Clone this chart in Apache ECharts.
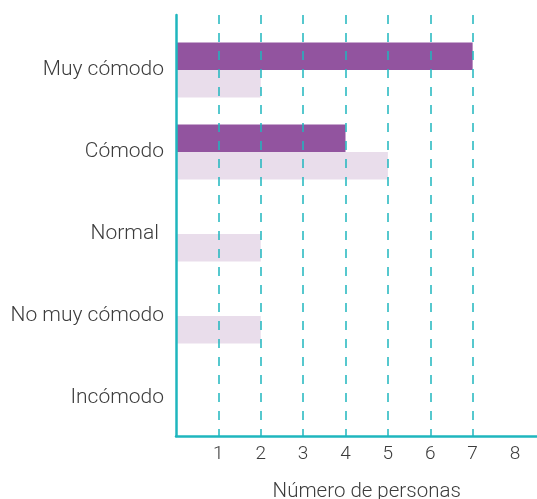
<!DOCTYPE html>
<html>
<head>
<meta charset="utf-8">
<script src="https://cdn.jsdelivr.net/npm/echarts@6/dist/echarts.min.js"></script>
<style>
  html, body { margin: 0; padding: 0; background: #ffffff; }
  #chart { width: 537px; height: 499px; }
</style>
</head>
<body>
<div id="chart"></div>
<script>
// Categories (top to bottom) and the number of people in each answer
const categories = ['Muy cómodo', 'Cómodo', 'Normal ', 'No muy cómodo', 'Incómodo'];
const darkValues = [7, 4, 0, 0, 0];
const lightValues = [2, 5, 2, 2, 0];
const xTickLabels = [1, 2, 3, 4, 5, 6, 7, 8];
const xAxisTitle = 'Número de personas';

const teal = '#1fb6be';
const textColor = '#3c3c3c';
const fontFamily = 'Roboto, "Noto Sans", sans-serif';
const unitPx = 42.375;        // pixels per person
const lineMax = 9;            // axis line keeps going past the last tick
const tickMax = xTickLabels[xTickLabels.length - 1];

const chart = echarts.init(document.getElementById('chart'), null, { renderer: 'canvas' });

chart.setOption({
  backgroundColor: '#ffffff',
  animation: false,
  grid: [
    // 0: bars and category labels
    { left: 176, top: 29, width: unitPx * lineMax, height: 410, containLabel: false, outerBoundsMode: 'none' },
    // 1: axis lines and axis title
    { left: 176, top: 15, width: unitPx * lineMax, height: 421, containLabel: false, outerBoundsMode: 'none' },
    // 2: dashed guides and tick numbers
    { left: 176, top: 15, width: unitPx * tickMax, height: 421, containLabel: false, outerBoundsMode: 'none' }
  ],
  xAxis: [
    { gridIndex: 0, type: 'value', min: 0, max: lineMax, show: false },
    {
      gridIndex: 1, type: 'value', min: 0, max: lineMax, interval: 1, z: 5,
      axisLine: { show: true, lineStyle: { color: teal, width: 2.5 } },
      axisTick: { show: false }, axisLabel: { show: false }, splitLine: { show: false },
      name: xAxisTitle, nameLocation: 'middle', nameGap: 45,
      nameTextStyle: { fontSize: 20.5, fontWeight: 300, color: textColor, fontFamily: fontFamily }
    },
    {
      gridIndex: 2, type: 'value', min: 0, max: tickMax, interval: 1, z: 4,
      axisLine: { show: false }, axisTick: { show: false },
      axisLabel: {
        margin: 9, fontSize: 19, fontWeight: 300, color: textColor, fontFamily: fontFamily,
        showMaxLabel: true,
        formatter: v => (xTickLabels.indexOf(v) >= 0 ? String(v) : '')
      },
      splitLine: {
        show: true, showMinLine: false, showMaxLine: false,
        lineStyle: { color: teal, width: 1.5, type: [9, 9] }
      }
    }
  ],
  yAxis: [
    {
      gridIndex: 0, type: 'category', inverse: true, data: categories,
      axisLine: { show: false }, axisTick: { show: false },
      axisLabel: { margin: 12, fontSize: 21, fontWeight: 300, color: textColor, fontFamily: fontFamily },
      splitLine: { show: false }
    },
    {
      gridIndex: 1, type: 'category', inverse: true, data: categories, z: 5,
      axisLine: { show: true, lineStyle: { color: teal, width: 2.5 } },
      axisTick: { show: false }, axisLabel: { show: false }, splitLine: { show: false }
    },
    {
      gridIndex: 2, type: 'category', inverse: true, data: categories, show: false
    }
  ],
  series: [
    {
      name: 'Serie 1', type: 'bar', xAxisIndex: 0, yAxisIndex: 0,
      data: darkValues, barGap: '0%', barCategoryGap: '33%',
      itemStyle: { color: '#92549f' }
    },
    {
      name: 'Serie 2', type: 'bar', xAxisIndex: 0, yAxisIndex: 0,
      data: lightValues, barGap: '0%', barCategoryGap: '33%',
      itemStyle: { color: '#e9ddeb' }
    }
  ]
});
</script>
</body>
</html>
